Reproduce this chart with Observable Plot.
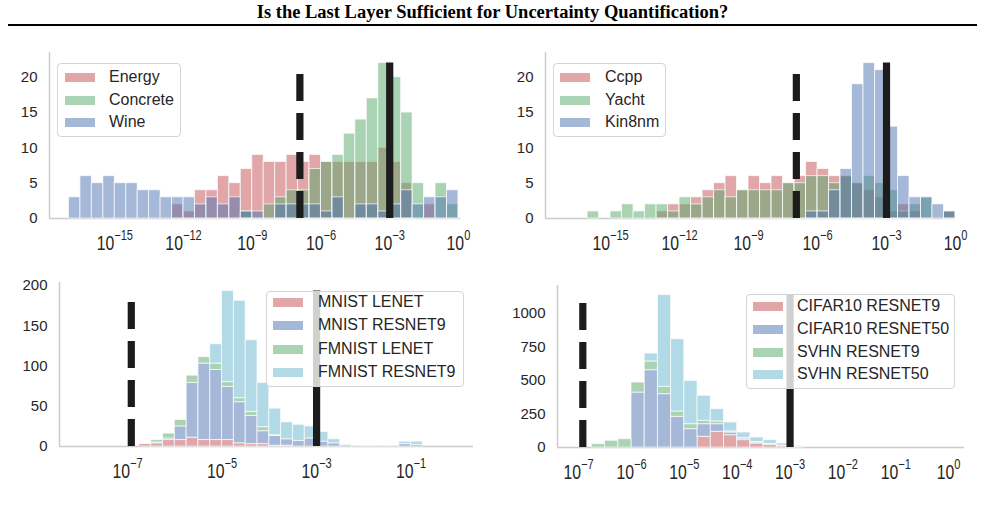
<!DOCTYPE html>
<html>
<head>
<meta charset="utf-8">
<script src="https://cdn.jsdelivr.net/npm/d3@7"></script>
<script src="https://cdn.jsdelivr.net/npm/@observablehq/plot@0.6"></script>
<style>
  html, body { margin: 0; padding: 0; background: #fff; }
  #page { position: relative; width: 985px; height: 510px; overflow: hidden; font-family: "Liberation Sans", Arial, sans-serif; color: #262626; }
  #title { position: absolute; left: 0; top: 2px; width: 985px; text-align: center; font-family: "Liberation Serif", "Times New Roman", serif; font-weight: bold; font-size: 18.5px; line-height: 21px; color: #000; }
  #rule { position: absolute; left: 8px; top: 24px; width: 969px; height: 2px; background: #000; }
  .panel { position: absolute; }
  .legend { position: absolute; box-sizing: border-box; border: 1px solid #d4d4d4; border-radius: 4px; background: rgba(255,255,255,0.8); }
  .legend .row { position: absolute; left: 0; height: 20px; line-height: 20px; font-size: 16px; white-space: nowrap; color: #262626; }
  .legend .swatch { position: absolute; top: 5.5px; width: 30px; height: 9px; }
  .legend .label { position: absolute; top: 0; }
</style>
</head>
<body>
<div id="page">
  <div id="title">Is the Last Layer Sufficient for Uncertainty Quantification?</div>
  <div id="rule"></div>
</div>
<script>
// ---- Histogram counts per log10 bin -------------------------------------
// Regression datasets: bins of 0.5 decades
const energyCounts   = [0,0,0,0,0,0,0,0,0,2,1,4,4,6,5,7,9,8,8,9,8,9,8,8,8,8,8,10,8,5,0,2,0,0];
const concreteCounts = [0,0,0,0,0,0,0,0,0,0,0,0,0,0,0,1,0,2,3,4,4,7,8,9,12,14,17,22,20,15,5,0,5,2];
const wineCounts     = [3,6,5,6,5,5,4,4,3,3,3,2,3,2,3,1,1,0,2,2,2,2,1,3,0,2,2,1,2,4,2,3,3,4];
const energyBinStart = -17;

const ccppCounts   = [0,0,0,0,0,0,1,2,2,3,4,5,6,4,6,5,6,5,6,8,7,6,6,5,4,3,1,2,1,0,0,1];
const yachtCounts  = [1,0,1,2,1,2,2,1,3,2,3,4,3,4,4,4,4,5,5,6,6,5,6,5,6,5,4,1,2,3,0,1];
const kin8nmCounts = [0,0,0,0,0,0,0,0,0,0,0,0,0,0,0,0,0,0,0,1,1,4,7,19,22,21,13,6,3,3,2,1];
const ccppBinStart = -16;
const regressionBinWidth = 0.5;

// Image classifiers: bins of 0.25 decades
const mnistLenetCounts    = [3,4,8,8,11,8,8,8,4,3,3,1,1,0,0,0,0,0,0,0,0,0,0,0];
const mnistResnet9Counts  = [0,1,2,17,68,95,87,66,51,35,16,12,8,7,10,6,4,0,0,0,0,0,3,2];
const fmnistLenetCounts   = [0,3,6,8,9,8,8,6,5,5,5,1,0,0,0,0,0,0,0,0,0,0,0,0];
const fmnistResnet9Counts = [0,0,0,0,0,0,24,113,121,89,55,33,21,20,15,12,5,2,1,1,1,1,3,4];

const cifarResnet9Counts  = [0,0,0,0,0,0,0,0,80,117,92,55,30,20,10,3];
const cifarResnet50Counts = [0,0,0,410,577,398,229,137,94,57,20,12,8,5,4,2];
const svhnResnet9Counts   = [25,50,62,75,65,55,40,37,25,20,8,5,3,2,0,0];
const svhnResnet50Counts  = [0,0,0,0,59,684,539,323,187,92,67,40,34,28,16,8];
const imageBinStart = -6.75;
const imageBinWidth = 0.25;

// Reference values drawn as vertical lines
const dashedReference = 1.2e-7;
const solidReference = 1e-3;

// Axis ticks
const countTicksSmall = [0, 5, 10, 15, 20];
const countTicksMnist = [0, 50, 100, 150, 200];
const countTicksCifar = [0, 250, 500, 750, 1000];
const decadeTicksRegression = [1e-15, 1e-12, 1e-9, 1e-6, 1e-3, 1];
const decadeTicksMnist = [1e-7, 1e-5, 1e-3, 1e-1];
const decadeTicksCifar = [1e-7, 1e-6, 1e-5, 1e-4, 1e-3, 1e-2, 1e-1, 1];

// ---- Palette ------------------------------------------------------------
const RED = "#C44E52", BLUE = "#4C72B0", GREEN = "#55A868", CYAN = "#64B5CD";

const panels = [
  {
    box: {left: 0, top: 40, width: 490, height: 225},
    margin: {left: 49, right: 30, top: 12, bottom: 47},
    xLog: [-17.85, 0.09], yMax: 23.5,
    xTicks: decadeTicksRegression, yTicks: countTicksSmall,
    start: energyBinStart, step: regressionBinWidth, stacked: false,
    series: [
      {name: "Energy", counts: energyCounts, color: RED},
      {name: "Concrete", counts: concreteCounts, color: GREEN},
      {name: "Wine", counts: wineCounts, color: BLUE}
    ],
    legend: {left: 57, top: 63, width: 124, height: 74, rows: [14, 37, 59], swatchX: 8, textX: 52}
  },
  {
    box: {left: 495, top: 40, width: 490, height: 225},
    margin: {left: 50, right: 30, top: 12, bottom: 47},
    xLog: [-17.83, 0], yMax: 23.5,
    xTicks: decadeTicksRegression, yTicks: countTicksSmall,
    start: ccppBinStart, step: regressionBinWidth, stacked: false,
    series: [
      {name: "Ccpp", counts: ccppCounts, color: RED},
      {name: "Yacht", counts: yachtCounts, color: GREEN},
      {name: "Kin8nm", counts: kin8nmCounts, color: BLUE}
    ],
    legend: {left: 553, top: 63, width: 113, height: 74, rows: [14, 37, 59], swatchX: 7, textX: 52}
  },
  {
    box: {left: 0, top: 265, width: 490, height: 230},
    margin: {left: 59, right: 17, top: 17, bottom: 49},
    xLog: [-8.44, 0.32], yMax: 203.7,
    xTicks: decadeTicksMnist, yTicks: countTicksMnist,
    start: imageBinStart, step: imageBinWidth, stacked: true,
    series: [
      {name: "MNIST LENET", counts: mnistLenetCounts, color: RED},
      {name: "MNIST RESNET9", counts: mnistResnet9Counts, color: BLUE},
      {name: "FMNIST LENET", counts: fmnistLenetCounts, color: GREEN},
      {name: "FMNIST RESNET9", counts: fmnistResnet9Counts, color: CYAN}
    ],
    legend: {left: 266, top: 291, width: 198, height: 96, rows: [11, 34, 58, 81], swatchX: 7, textX: 52}
  },
  {
    box: {left: 495, top: 265, width: 490, height: 230},
    margin: {left: 62, right: 21, top: 20, bottom: 48},
    xLog: [-7.4, 0.3], yMax: 1209,
    xTicks: decadeTicksCifar, yTicks: countTicksCifar,
    start: imageBinStart, step: imageBinWidth, stacked: true,
    series: [
      {name: "CIFAR10 RESNET9", counts: cifarResnet9Counts, color: RED},
      {name: "CIFAR10 RESNET50", counts: cifarResnet50Counts, color: BLUE},
      {name: "SVHN RESNET9", counts: svhnResnet9Counts, color: GREEN},
      {name: "SVHN RESNET50", counts: svhnResnet50Counts, color: CYAN}
    ],
    legend: {left: 746, top: 294, width: 209, height: 95, rows: [12, 35, 58, 80], swatchX: 7, textX: 51}
  }
];

// Turn per-bin counts into rectangles (layered or stacked)
function binRects(cfg) {
  const n = cfg.series[0].counts.length;
  const base = new Array(n).fill(0);
  const rows = [];
  for (const s of cfg.series) {
    s.counts.forEach((c, k) => {
      const y1 = cfg.stacked ? base[k] : 0;
      const y2 = y1 + c;
      if (cfg.stacked) base[k] = y2;
      if (c > 0) rows.push({
        name: s.name,
        lo: 10 ** (cfg.start + k * cfg.step),
        hi: 10 ** (cfg.start + (k + 1) * cfg.step),
        y1, y2
      });
    });
  }
  return rows;
}

const SVGNS = "http://www.w3.org/2000/svg";

// Render decade labels as 10 with a raised exponent, in a narrow face
function decadeLabels(svg) {
  svg.querySelectorAll('[aria-label^="x-axis"] text').forEach(t => {
    const exp = t.textContent.trim();
    if (!/^[−-]?\d+$/.test(exp)) return;
    t.textContent = "";
    const b = document.createElementNS(SVGNS, "tspan");
    b.setAttribute("font-size", "20px");
    b.textContent = "10";
    const s = document.createElementNS(SVGNS, "tspan");
    s.setAttribute("font-size", "14px");
    s.setAttribute("dy", "-10");
    s.textContent = exp.replace("-", "\u2212");
    t.appendChild(b);
    t.appendChild(s);
    const tr = t.getAttribute("transform") || "";
    t.setAttribute("transform", (tr + " scale(0.79,1)").trim());
  });
}

const page = document.getElementById("page");

for (const cfg of panels) {
  const rows = binRects(cfg);
  const top = d3.max(rows, d => d.y2);
  const xmin = 10 ** cfg.xLog[0];
  const chart = Plot.plot({
    width: cfg.box.width,
    height: cfg.box.height,
    marginLeft: cfg.margin.left,
    marginRight: cfg.margin.right,
    marginTop: cfg.margin.top,
    marginBottom: cfg.margin.bottom,
    style: {fontFamily: "'Liberation Sans', Arial, sans-serif", fontSize: "15px", color: "#262626", background: "none", overflow: "visible"},
    x: {type: "log", domain: [xmin, 10 ** cfg.xLog[1]], ticks: cfg.xTicks, tickSize: 0, tickPadding: 21,
        tickFormat: d => String(Math.round(Math.log10(d))), label: null},
    y: {domain: [0, cfg.yMax], ticks: cfg.yTicks, tickSize: 0, tickPadding: 12,
        tickFormat: d => String(d), label: null},
    color: {domain: cfg.series.map(s => s.name), range: cfg.series.map(s => s.color)},
    marks: [
      Plot.ruleY([0], {stroke: "#cccccc", strokeWidth: 1.5}),
      Plot.ruleX([xmin], {stroke: "#cccccc", strokeWidth: 1.5}),
      Plot.rect(rows, {x1: "lo", x2: "hi", y1: "y1", y2: "y2", fill: "name", fillOpacity: 0.5,
                       stroke: "white", strokeOpacity: 0.7, strokeWidth: 1}),
      Plot.ruleX([dashedReference], {y1: 0, y2: top, stroke: "#1c1c1c", strokeWidth: 7.2, strokeDasharray: "27,12"}),
      Plot.ruleX([solidReference], {y1: 0, y2: top, stroke: "#1c1c1c", strokeWidth: 7.2})
    ]
  });
  chart.classList.add("panel");
  chart.style.left = cfg.box.left + "px";
  chart.style.top = cfg.box.top + "px";
  chart.style.position = "absolute";
  decadeLabels(chart);
  page.appendChild(chart);

  // Legend box
  const L = cfg.legend;
  const box = document.createElement("div");
  box.className = "legend";
  Object.assign(box.style, {left: L.left + "px", top: L.top + "px", width: L.width + "px", height: L.height + "px"});
  cfg.series.forEach((s, i) => {
    const row = document.createElement("div");
    row.className = "row";
    row.style.top = (L.rows[i] - 10 - 1) + "px";
    row.style.width = "100%";
    const sw = document.createElement("div");
    sw.className = "swatch";
    sw.style.left = (L.swatchX - 1) + "px";
    sw.style.background = s.color;
    sw.style.opacity = 0.5;
    const lab = document.createElement("div");
    lab.className = "label";
    lab.style.left = (L.textX - 1) + "px";
    lab.textContent = s.name;
    row.appendChild(sw);
    row.appendChild(lab);
    box.appendChild(row);
  });
  page.appendChild(box);
}
</script>
</body>
</html>
